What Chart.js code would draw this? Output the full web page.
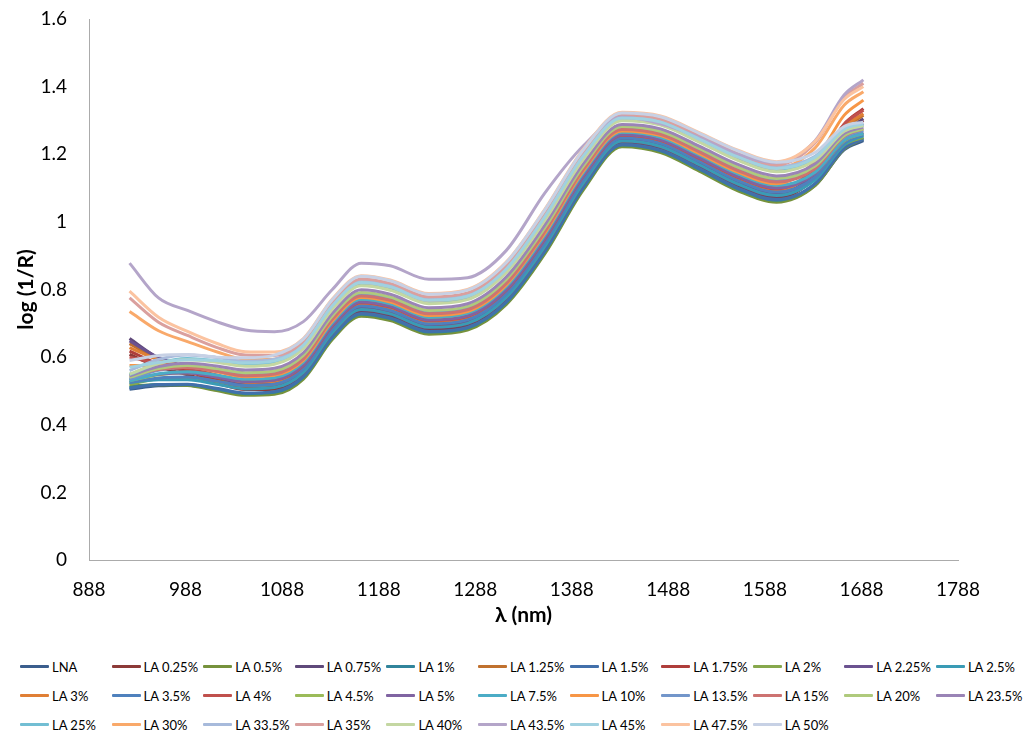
<!DOCTYPE html>
<html>
<head>
<meta charset="utf-8">
<title>log (1/R) spectra</title>
<script src="https://cdn.jsdelivr.net/npm/chart.js@4/dist/chart.umd.min.js"></script>
<style>
  html, body { margin: 0; padding: 0; background: #fff; }
  #wrap { position: relative; width: 1026px; height: 733px; overflow: hidden; }
  #chartBox { position: absolute; left: 0; top: 0; width: 1026px; height: 650px; }
  #legend {
    position: absolute; left: 20px; top: 652px;
    display: grid; grid-template-columns: repeat(11, 91.6px); grid-auto-rows: 29px;
    font-family: Lato, "Liberation Sans", sans-serif; font-size: 13px; color: #000;
  }
  .item { display: flex; align-items: center; white-space: nowrap; }
  .swatch { display: inline-block; width: 29px; height: 3px; margin-right: 3px; border-radius: 1px; }
</style>
</head>
<body>
<div id="wrap">
  <div id="chartBox"><canvas id="c"></canvas></div>
  <div id="legend"></div>
</div>
<script>
// Wavelengths (nm) at which every spectrum is sampled
const wavelengths = [930, 960, 990, 1020, 1050, 1080, 1110, 1140, 1170, 1200, 1240, 1280,
                     1320, 1360, 1400, 1440, 1480, 1520, 1560, 1600, 1640, 1670, 1690];

// Axis tick labels
const xTicks = [888, 988, 1088, 1188, 1288, 1388, 1488, 1588, 1688, 1788];
const yTicks = [0, 0.2, 0.4, 0.6, 0.8, 1, 1.2, 1.4, 1.6];

// log(1/R) spectra, one array per sample
const lna     = [0.505,0.515,0.517,0.504,0.490,0.494,0.539,0.656,0.725,0.712,0.672,0.684,0.759,0.909,1.099,1.225,1.209,1.154,1.096,1.062,1.108,1.213,1.240];
const la0_25  = [0.608,0.571,0.548,0.523,0.504,0.505,0.547,0.664,0.733,0.720,0.680,0.692,0.768,0.918,1.107,1.232,1.216,1.161,1.104,1.070,1.132,1.260,1.300];
const la0_5   = [0.515,0.518,0.516,0.501,0.487,0.490,0.535,0.652,0.721,0.708,0.668,0.680,0.755,0.905,1.095,1.222,1.205,1.150,1.092,1.058,1.107,1.215,1.245];
const la0_75  = [0.655,0.597,0.565,0.534,0.512,0.512,0.553,0.670,0.739,0.726,0.686,0.698,0.774,0.925,1.113,1.237,1.221,1.167,1.110,1.076,1.138,1.265,1.305];
const la1     = [0.510,0.519,0.519,0.506,0.492,0.496,0.541,0.658,0.727,0.714,0.674,0.686,0.761,0.912,1.101,1.227,1.210,1.156,1.098,1.064,1.113,1.221,1.250];
const la1_25  = [0.640,0.593,0.565,0.538,0.517,0.517,0.559,0.676,0.745,0.732,0.692,0.704,0.780,0.931,1.119,1.242,1.227,1.173,1.116,1.082,1.145,1.274,1.315];
const la1_5   = [0.508,0.519,0.520,0.508,0.494,0.498,0.543,0.660,0.729,0.716,0.676,0.688,0.763,0.914,1.103,1.229,1.212,1.158,1.100,1.066,1.113,1.217,1.245];
const la1_75  = [0.618,0.580,0.557,0.531,0.512,0.513,0.555,0.672,0.741,0.728,0.688,0.700,0.776,0.927,1.115,1.239,1.223,1.169,1.112,1.078,1.148,1.288,1.335];
const la2     = [0.520,0.536,0.540,0.528,0.515,0.520,0.565,0.682,0.751,0.738,0.698,0.710,0.787,0.938,1.125,1.248,1.232,1.179,1.122,1.088,1.130,1.227,1.250];
const la2_25  = [0.648,0.599,0.570,0.542,0.521,0.522,0.563,0.680,0.749,0.736,0.696,0.708,0.784,0.936,1.123,1.246,1.230,1.177,1.120,1.086,1.140,1.256,1.290];
const la2_5   = [0.525,0.533,0.533,0.520,0.506,0.510,0.555,0.672,0.741,0.728,0.688,0.700,0.776,0.927,1.115,1.239,1.223,1.169,1.112,1.078,1.124,1.228,1.255];
const la3     = [0.628,0.592,0.571,0.546,0.526,0.528,0.570,0.687,0.756,0.743,0.703,0.715,0.792,0.944,1.130,1.252,1.237,1.183,1.127,1.093,1.154,1.280,1.320];
const la3_5   = [0.525,0.538,0.541,0.529,0.516,0.520,0.565,0.682,0.751,0.738,0.698,0.710,0.787,0.938,1.125,1.248,1.232,1.179,1.122,1.088,1.132,1.233,1.258];
const la4     = [0.600,0.581,0.567,0.547,0.529,0.532,0.575,0.692,0.761,0.748,0.708,0.720,0.797,0.949,1.135,1.256,1.241,1.188,1.132,1.098,1.161,1.289,1.330];
const la4_5   = [0.530,0.548,0.554,0.543,0.530,0.534,0.580,0.697,0.766,0.753,0.713,0.725,0.802,0.955,1.140,1.260,1.246,1.193,1.137,1.103,1.144,1.239,1.262];
const la5     = [0.535,0.549,0.553,0.541,0.527,0.532,0.577,0.694,0.763,0.750,0.710,0.722,0.799,0.951,1.137,1.258,1.243,1.190,1.134,1.100,1.143,1.241,1.265];
const la7_5   = [0.530,0.551,0.557,0.547,0.535,0.539,0.585,0.702,0.771,0.758,0.718,0.730,0.808,0.960,1.145,1.265,1.250,1.198,1.142,1.108,1.147,1.241,1.262];
const la10    = [0.575,0.576,0.572,0.557,0.542,0.546,0.590,0.707,0.776,0.763,0.723,0.735,0.813,0.966,1.150,1.269,1.255,1.202,1.147,1.113,1.180,1.315,1.360];
const la13_5  = [0.535,0.561,0.570,0.561,0.549,0.554,0.600,0.717,0.786,0.773,0.733,0.745,0.823,0.977,1.160,1.277,1.264,1.212,1.157,1.123,1.160,1.250,1.270];
const la15    = [0.545,0.563,0.569,0.558,0.545,0.550,0.595,0.712,0.781,0.768,0.728,0.740,0.818,0.971,1.155,1.273,1.259,1.207,1.152,1.118,1.158,1.253,1.275];
const la20    = [0.540,0.566,0.575,0.566,0.554,0.559,0.605,0.722,0.791,0.778,0.738,0.750,0.829,0.982,1.165,1.282,1.268,1.217,1.162,1.128,1.165,1.255,1.275];
const la23_5  = [0.545,0.572,0.582,0.574,0.562,0.567,0.613,0.730,0.799,0.786,0.746,0.758,0.837,0.991,1.173,1.288,1.275,1.224,1.170,1.136,1.172,1.261,1.280];
const la25    = [0.548,0.582,0.596,0.589,0.578,0.584,0.630,0.747,0.816,0.803,0.763,0.775,0.855,1.010,1.190,1.303,1.291,1.240,1.187,1.153,1.186,1.269,1.285];
const la30    = [0.735,0.678,0.646,0.616,0.594,0.594,0.635,0.752,0.821,0.808,0.768,0.780,0.860,1.015,1.195,1.307,1.295,1.245,1.192,1.158,1.219,1.345,1.385];
const la33_5  = [0.560,0.593,0.606,0.599,0.588,0.594,0.640,0.757,0.826,0.813,0.773,0.785,0.865,1.021,1.200,1.311,1.300,1.250,1.197,1.163,1.194,1.275,1.290];
const la35    = [0.775,0.703,0.664,0.629,0.606,0.605,0.645,0.762,0.831,0.818,0.778,0.790,0.871,1.026,1.205,1.316,1.304,1.255,1.202,1.168,1.234,1.367,1.410];
const la40    = [0.550,0.581,0.592,0.585,0.573,0.579,0.625,0.742,0.811,0.798,0.758,0.770,0.850,1.004,1.185,1.299,1.286,1.236,1.182,1.148,1.182,1.268,1.285];
const la43_5  = [0.878,0.775,0.738,0.705,0.680,0.675,0.705,0.800,0.878,0.870,0.830,0.835,0.915,1.085,1.225,1.310,1.290,1.250,1.200,1.175,1.240,1.375,1.420];
const la45    = [0.570,0.584,0.592,0.590,0.583,0.589,0.635,0.752,0.821,0.808,0.768,0.780,0.860,1.015,1.195,1.307,1.295,1.245,1.192,1.158,1.191,1.274,1.290];
const la47_5  = [0.795,0.718,0.676,0.641,0.616,0.615,0.655,0.772,0.841,0.828,0.788,0.800,0.881,1.037,1.215,1.324,1.313,1.264,1.212,1.178,1.238,1.362,1.400];
const la50    = [0.590,0.605,0.608,0.600,0.598,0.606,0.653,0.770,0.839,0.826,0.786,0.798,0.879,1.035,1.213,1.322,1.311,1.262,1.210,1.176,1.205,1.282,1.295];

const seriesNames = ["LNA","LA 0.25%","LA 0.5%","LA 0.75%","LA 1%","LA 1.25%","LA 1.5%","LA 1.75%","LA 2%","LA 2.25%","LA 2.5%",
                     "LA 3%","LA 3.5%","LA 4%","LA 4.5%","LA 5%","LA 7.5%","LA 10%","LA 13.5%","LA 15%","LA 20%","LA 23.5%",
                     "LA 25%","LA 30%","LA 33.5%","LA 35%","LA 40%","LA 43.5%","LA 45%","LA 47.5%","LA 50%"];
const seriesValues = [lna, la0_25, la0_5, la0_75, la1, la1_25, la1_5, la1_75, la2, la2_25, la2_5,
                      la3, la3_5, la4, la4_5, la5, la7_5, la10, la13_5, la15, la20, la23_5,
                      la25, la30, la33_5, la35, la40, la43_5, la45, la47_5, la50];
const seriesColors = ["#3B5E8D","#8C3A38","#76923C","#5F497A","#31849B","#C0712F","#4270AB","#AF3E3B","#87A84D","#6B5290","#3A9BB5",
                      "#E07F35","#4F81BD","#C0504D","#9BBB59","#8064A2","#4BACC6","#F79646","#7396CA","#CD7371","#AFCA7C","#9A84B6",
                      "#72BED3","#F9A96A","#A7BADB","#DAA09E","#C4D7A2","#B4A5C9","#A0D1E0","#FBC3A0","#C7D1E5"];

const FONT = "Lato, 'Liberation Sans', sans-serif";
const N = seriesNames.length;

const datasets = seriesNames.map((name, i) => ({
  label: name,
  data: wavelengths.map((w, k) => ({ x: w, y: seriesValues[i][k] })),
  borderColor: seriesColors[i],
  backgroundColor: seriesColors[i],
  borderWidth: 3,
  pointRadius: 0,
  pointHoverRadius: 0,
  fill: false,
  cubicInterpolationMode: 'monotone',
  order: N - 1 - i   // later samples are painted over earlier ones
}));

const chart = new Chart(document.getElementById('c'), {
  type: 'line',
  data: { datasets },
  options: {
    responsive: true,
    maintainAspectRatio: false,
    animation: false,
    layout: { padding: { left: 0, top: 19, right: 68, bottom: 20 } },
    plugins: { legend: { display: false }, tooltip: { enabled: false } },
    scales: {
      x: {
        type: 'linear',
        min: xTicks[0],
        max: xTicks[xTicks.length - 1],
        afterBuildTicks: s => { s.ticks = xTicks.map(v => ({ value: v })); },
        afterFit: s => { s.height = 70; },
        grid: { display: false, drawTicks: false },
        border: { display: true, color: '#ababab', width: 1 },
        ticks: { color: '#000', font: { family: FONT, size: 19 }, padding: 18, maxRotation: 0, autoSkip: false,
                 callback: v => String(v) },
        title: { display: true, text: 'λ (nm)', color: '#000', font: { family: FONT, size: 21, weight: 'bold' }, padding: { top: 0, bottom: 2 } }
      },
      y: {
        type: 'linear',
        min: yTicks[0],
        max: yTicks[yTicks.length - 1],
        afterBuildTicks: s => { s.ticks = yTicks.map(v => ({ value: v })); },
        // fixed axis width; end labels may overhang into the outer padding
        afterFit: s => { s.width = 89; s.paddingTop = 0; s.paddingBottom = 0; },
        grid: { display: false, drawTicks: false },
        border: { display: true, color: '#ababab', width: 1 },
        ticks: { color: '#000', font: { family: FONT, size: 19 }, padding: 22, callback: v => String(Math.round(v * 10) / 10) },
        title: { display: true, text: 'log (1/R)', color: '#000', font: { family: FONT, size: 21, weight: 'bold' }, padding: { top: 14, bottom: 0 } }
      }
    }
  }
});

// Legend laid out as a grid below the plot
const legendEl = document.getElementById('legend');
chart.data.datasets.forEach(ds => {
  const item = document.createElement('div');
  item.className = 'item';
  const sw = document.createElement('span');
  sw.className = 'swatch';
  sw.style.background = ds.borderColor;
  const tx = document.createElement('span');
  tx.textContent = ds.label;
  item.appendChild(sw);
  item.appendChild(tx);
  legendEl.appendChild(item);
});
</script>
</body>
</html>
